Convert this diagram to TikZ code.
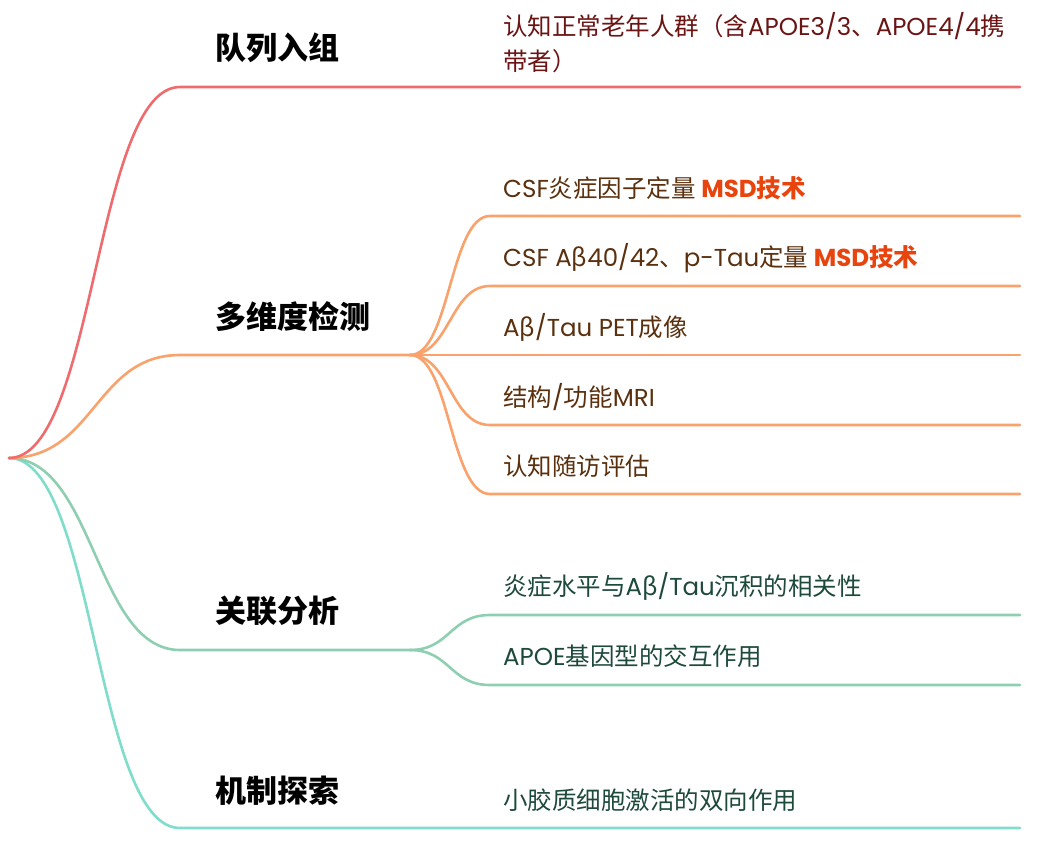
\documentclass[tikz,border=0pt]{standalone}
\usepackage{fontspec}
\setmainfont{Noto Sans CJK SC}
\newfontfamily\lat{Poppins}
\definecolor{cred}{HTML}{EF6C6E}
\definecolor{corange}{HTML}{F9A26C}
\definecolor{cgreen}{HTML}{8ECFB1}
\definecolor{cteal}{HTML}{80DDCB}
\definecolor{tred}{HTML}{6B1414}
\definecolor{tbrown}{HTML}{5A300E}
\definecolor{tgreen}{HTML}{1E4A3B}
\definecolor{msd}{HTML}{E8440E}
\tikzset{
  br/.style={line width=2.6pt, line cap=round},
  mainlabel/.style={anchor=base west, inner sep=0pt, font=\fontsize{31}{31}\selectfont\bfseries, text=black},
  leaf/.style={anchor=base west, inner sep=0pt, font=\fontsize{24.5}{35}\selectfont},
}
\newcommand{\msdtag}{{\color{msd}\bfseries{\lat MSD}技术}}
\begin{document}
\begin{tikzpicture}[x=1pt,y=-1pt]
\useasboundingbox (0,0) rectangle (1038,841);
% coordinates
\coordinate (root) at (9,458);
\coordinate (r1) at (180,87);  \coordinate (r2) at (1020,87);
\coordinate (o1) at (180,355); \coordinate (ohub) at (410,355);
\coordinate (g1) at (180,650); \coordinate (ghub) at (410,650);
\coordinate (t1) at (180,828); \coordinate (t2) at (1020,828);
\foreach \n/\y in {a/216,b/286,c/355,d/425,e/494}{
  \coordinate (o\n) at (490,\y); \coordinate (oe\n) at (1020,\y);
}
\foreach \n/\y in {a/615,b/685}{
  \coordinate (g\n) at (490,\y); \coordinate (ge\n) at (1020,\y);
}
% branches
\draw[br,cteal] (root) .. controls (95,458) and (95,828) .. (t1) -- (t2);
\draw[br,cgreen] (root) .. controls (95,458) and (95,650) .. (g1) -- (ghub);
\draw[br,cgreen] (ghub) .. controls (450,650) and (450,615) .. (ga) -- (gea);
\draw[br,cgreen] (ghub) .. controls (450,650) and (450,685) .. (gb) -- (geb);
\draw[br,corange] (root) .. controls (95,458) and (95,355) .. (o1) -- (ohub);
\draw[br,corange] (ohub) .. controls (450,355) and (450,216) .. (oa) -- (oea);
\draw[br,corange] (ohub) .. controls (450,355) and (450,286) .. (ob) -- (oeb);
\draw[br,corange] (ohub) -- (oec);
\draw[br,corange] (ohub) .. controls (450,355) and (450,425) .. (od) -- (oed);
\draw[br,corange] (ohub) .. controls (450,355) and (450,494) .. (oe) -- (oee);
\draw[br,cred] (root) .. controls (95,458) and (95,87) .. (r1) -- (r2);
% main labels
\node[mainlabel] (m1) at (215,59) {队列入组};
\node[mainlabel] (m2) at (215,328) {多维度检测};
\node[mainlabel] (m3) at (215,622) {关联分析};
\node[mainlabel] (m4) at (215,802) {机制探索};
% leaves
\node[leaf, anchor=north west, align=left, text=tred] (l1) at (503,12.6)
  {认知正常老年人群（含{\lat APOE3/3}、{\lat APOE4/4}携\\带者）};
\node[leaf, text=tbrown] (l2) at (503,197) {{\lat CSF}炎症因子定量 \msdtag};
\node[leaf, text=tbrown] (l3) at (503,266) {{\lat CSF A}β{\lat 40/42}、{\lat p-Tau}定量 \msdtag};
\node[leaf, text=tbrown] (l4) at (503,336) {{\lat A}β{\lat /Tau PET}成像};
\node[leaf, text=tbrown] (l5) at (503,406) {结构{\lat /}功能{\lat MRI}};
\node[leaf, text=tbrown] (l6) at (503,475) {认知随访评估};
\node[leaf, text=tgreen] (l7) at (503,595) {炎症水平与{\lat A}β{\lat /Tau}沉积的相关性};
\node[leaf, text=tgreen] (l8) at (503,665) {{\lat APOE}基因型的交互作用};
\node[leaf, text=tgreen] (l9) at (503,809) {小胶质细胞激活的双向作用};
\end{tikzpicture}
\end{document}
